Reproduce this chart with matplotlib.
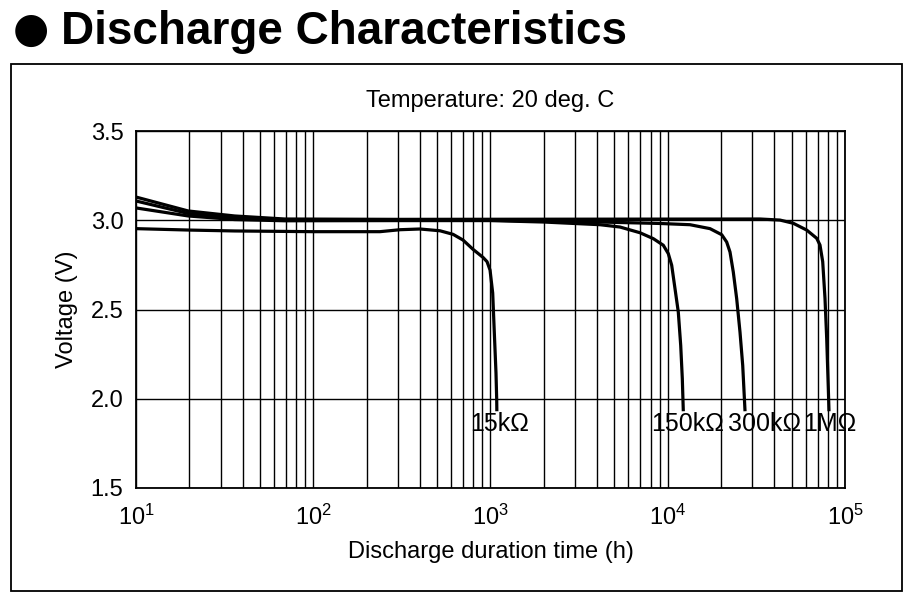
import matplotlib
matplotlib.use("Agg")
import matplotlib.pyplot as plt
from matplotlib.patches import Rectangle
from matplotlib.ticker import LogLocator, FixedLocator

plt.rcParams["font.family"] = ["Liberation Sans", "DejaVu Sans"]
plt.rcParams["mathtext.fontset"] = "custom"
plt.rcParams["mathtext.rm"] = "Liberation Sans"

# discharge curves (hours, volts)
hours_15k = [10, 20, 36, 100, 238, 309, 400, 519, 615, 700, 797, 907, 956, 994,
             1029, 1051, 1074, 1084, 1086]
volts_15k = [2.953, 2.945, 2.94, 2.936, 2.936, 2.947, 2.951, 2.941, 2.921, 2.889,
             2.837, 2.792, 2.768, 2.721, 2.592, 2.368, 2.144, 1.993, 1.93]

hours_150k = [10, 19.7, 36, 69, 300, 1000, 2000, 4148, 5378, 6973, 8287, 9439,
              10072, 10525, 10987, 11468, 11833, 12083, 12240]
volts_150k = [3.069, 3.024, 3.004, 2.997, 2.998, 2.998, 2.99, 2.975, 2.962, 2.93,
              2.897, 2.86, 2.813, 2.748, 2.617, 2.486, 2.299, 2.112, 1.93]

hours_300k = [10, 19.7, 36, 69, 300, 1000, 4148, 9000, 13350, 17310, 20160, 21500,
              22450, 23430, 24490, 25560, 26480, 27290]
volts_300k = [3.108, 3.038, 3.013, 3.001, 3.0, 3.0, 2.99, 2.982, 2.975, 2.953, 2.919,
              2.878, 2.822, 2.71, 2.56, 2.374, 2.187, 1.93]

hours_1m = [10, 19.7, 36, 69, 300, 3000, 33150, 42980, 51080, 60800, 69230, 72260,
            74850, 77110, 78830, 80500, 81230]
volts_1m = [3.13, 3.052, 3.024, 3.007, 3.005, 3.006, 3.007, 3.001, 2.983, 2.945,
            2.899, 2.861, 2.768, 2.563, 2.339, 2.059, 1.93]

labels = ["15k\u03a9", "150k\u03a9", "300k\u03a9", "1M\u03a9"]
label_hours = [1125, 12880, 35000, 82200]
label_volt = 1.86

fig = plt.figure(figsize=(9.15, 6), dpi=100)
ax = fig.add_axes([136 / 915, 1 - 488 / 600, 709 / 915, 357 / 600])

for h, v in [(hours_15k, volts_15k), (hours_150k, volts_150k),
             (hours_300k, volts_300k), (hours_1m, volts_1m)]:
    ax.plot(h, v, color="black", lw=2.3, solid_joinstyle="round",
            solid_capstyle="butt", zorder=3)

for lab, x in zip(labels, label_hours):
    ax.text(x, label_volt, lab, ha="center", va="center", fontsize=18)

ax.set_xscale("log")
ax.set_xlim(10, 1e5)
ax.set_ylim(1.5, 3.5)
ax.xaxis.set_major_locator(LogLocator(base=10))
ax.xaxis.set_minor_locator(LogLocator(base=10, subs=range(2, 10)))
ax.yaxis.set_major_locator(FixedLocator([1.5, 2.0, 2.5, 3.0, 3.5]))
ax.set_yticklabels(["1.5", "2.0", "2.5", "3.0", "3.5"])
ax.grid(True, which="both", axis="x", color="black", lw=1.0)
ax.grid(True, which="major", axis="y", color="black", lw=1.0)
ax.tick_params(which="both", length=0, labelsize=17, pad=9)
ax.tick_params(axis="x", pad=12)
for s in ax.spines.values():
    s.set_linewidth(1.3)

ax.set_xlabel("Discharge duration time (h)", fontsize=17, labelpad=8)
ax.set_ylabel("Voltage (V)", fontsize=17, labelpad=9)

fig.text(490 / 915, 1 - 101 / 600, "Temperature: 20 deg. C", ha="center", va="center", fontsize=17)
fig.text(31 / 915, 1 - 30 / 600, "\u25cf", ha="center", va="center", fontsize=30,
         family=["DejaVu Sans"])
fig.text(61 / 915, 1 - 44 / 600, "Discharge Characteristics", ha="left", va="baseline",
         fontsize=33, fontweight="bold")

fig.patches.append(Rectangle((11 / 915, 1 - 591 / 600), 891 / 915, 527 / 600,
                             transform=fig.transFigure, fill=False, ec="black", lw=1.3))

fig.savefig("out.png", dpi=100)
